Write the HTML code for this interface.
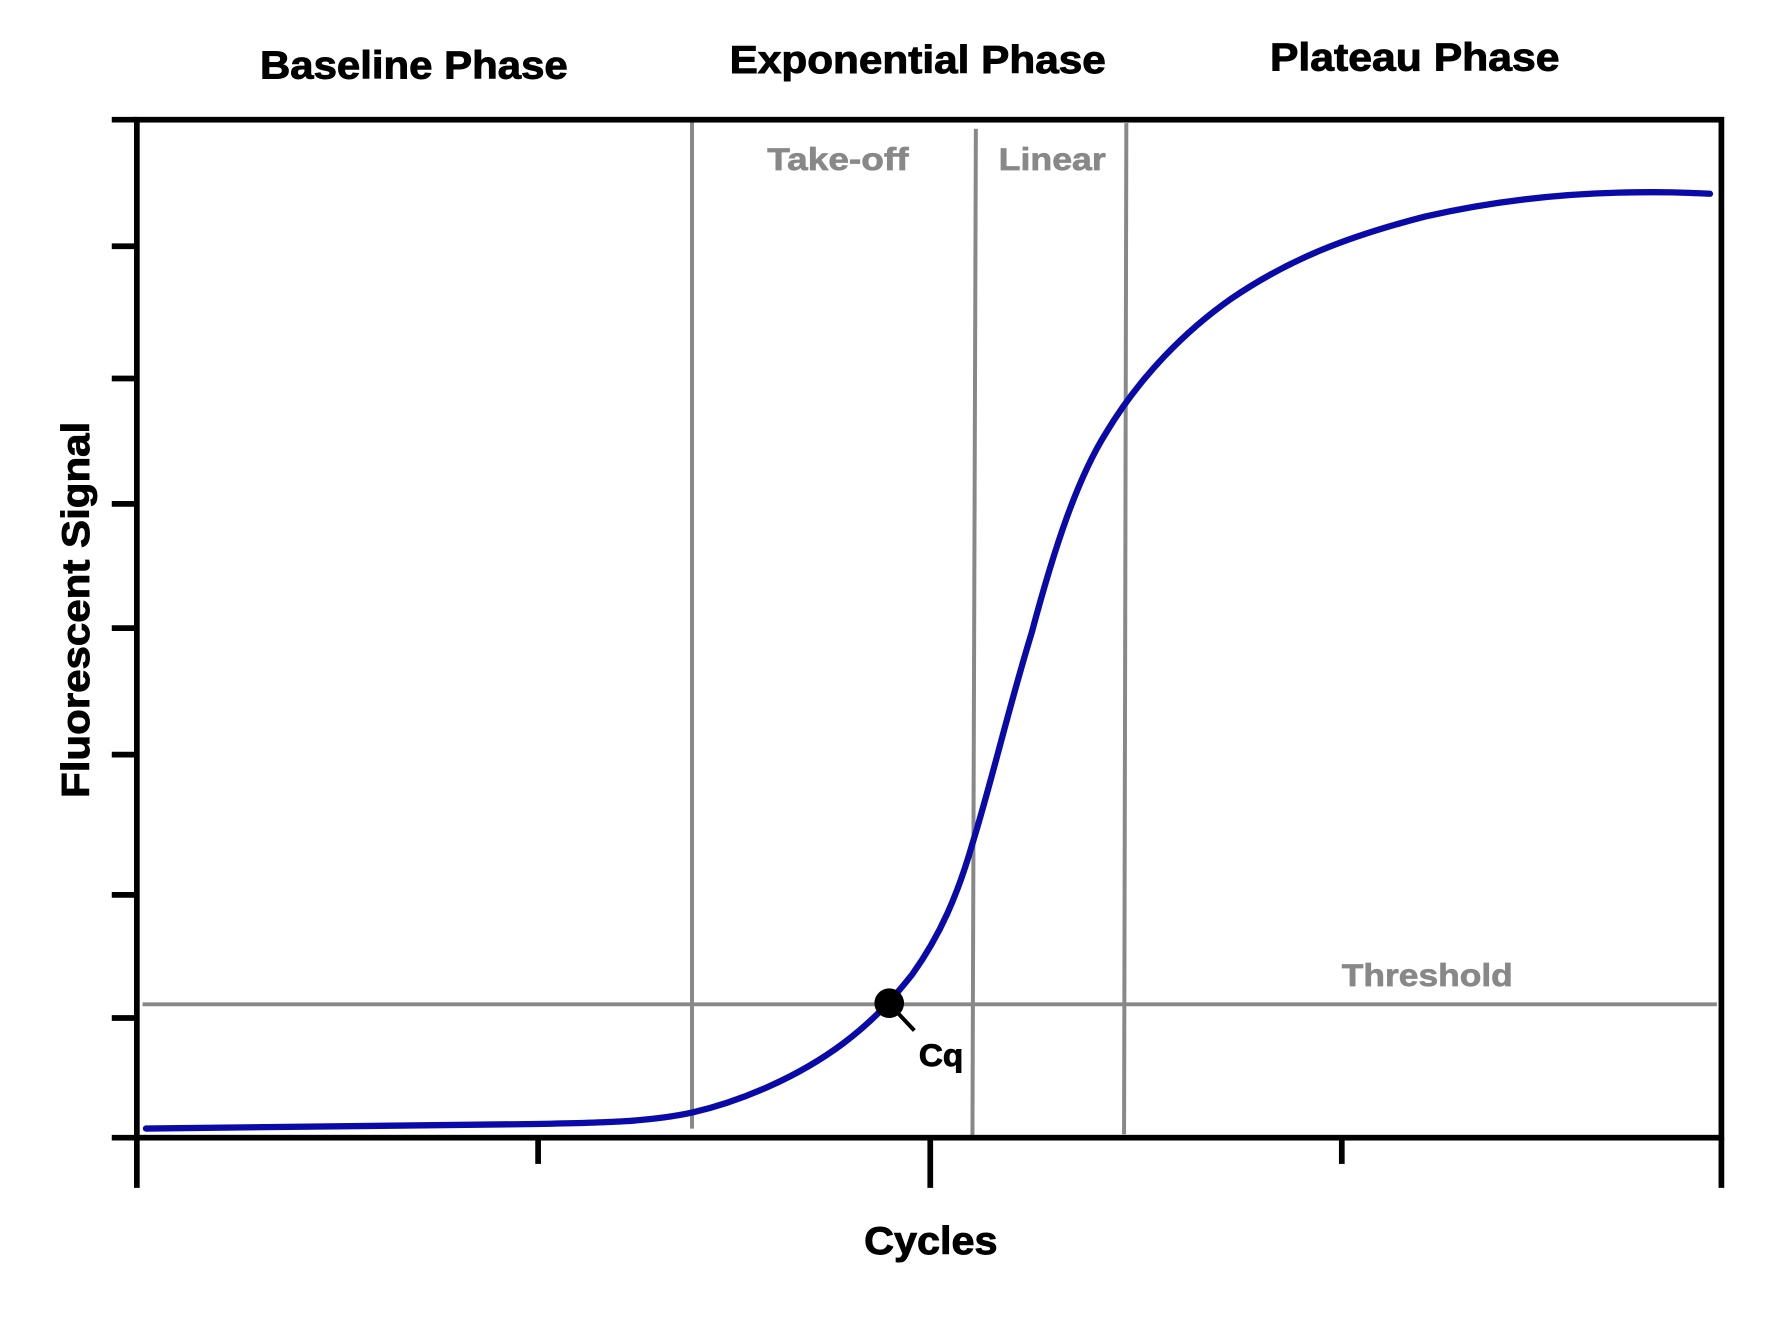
<!DOCTYPE html>
<html><head><meta charset="utf-8"><style>html,body{margin:0;padding:0;background:#fff}svg{display:block}</style></head>
<body>
<svg width="1787" height="1317" viewBox="0 0 1567.5 1155.3" xmlns="http://www.w3.org/2000/svg" font-family="Liberation Sans, Arial, sans-serif" font-weight="bold">
<rect width="1567.5" height="1155.3" fill="#fff"/>
<g stroke="#888" stroke-width="3.5" fill="none">
<line x1="607" y1="103" x2="607" y2="990"/>
<line x1="856" y1="113" x2="853" y2="998"/>
<line x1="988" y1="108" x2="986" y2="995"/>
<line x1="125" y1="881" x2="1506" y2="881"/>
</g>
<path d="M128,990 L470,986 C530,985 570,984 607,976 C650,966 700,945 740,915 C765,896 780,880 800,855 C825,820 840,785 853,740 C870,685 885,620 905,555 C925,480 945,420 970,380 C1000,330 1040,290 1080,262 C1130,228 1180,208 1250,190 C1320,174 1380,170 1420,169 C1460,168 1480,169 1500,170" fill="none" stroke="#0a0aa8" stroke-width="5.5" stroke-linecap="round"/>
<g stroke="#000" stroke-width="5" fill="none">
<rect x="120" y="105" width="1390" height="893"/>
<line x1="98" y1="105" x2="120" y2="105"/>
<line x1="98" y1="216" x2="120" y2="216"/>
<line x1="98" y1="332" x2="120" y2="332"/>
<line x1="98" y1="442" x2="120" y2="442"/>
<line x1="98" y1="551" x2="120" y2="551"/>
<line x1="98" y1="662" x2="120" y2="662"/>
<line x1="98" y1="785" x2="120" y2="785"/>
<line x1="98" y1="893" x2="120" y2="893"/>
<line x1="98" y1="998" x2="120" y2="998"/>
<line x1="120" y1="998" x2="120" y2="1042"/>
<line x1="472" y1="998" x2="472" y2="1021"/>
<line x1="816" y1="998" x2="816" y2="1042"/>
<line x1="1177" y1="998" x2="1177" y2="1021"/>
<line x1="1510" y1="998" x2="1510" y2="1042"/>
</g>
<circle cx="780" cy="880" r="13" fill="#000"/>
<line x1="786" y1="887" x2="802" y2="904" stroke="#000" stroke-width="3.5"/>
<g fill="#000" font-size="34" stroke="#000" stroke-width="0.8">
<text x="228" y="69" textLength="270" lengthAdjust="spacingAndGlyphs">Baseline Phase</text>
<text x="640" y="64" textLength="330" lengthAdjust="spacingAndGlyphs">Exponential Phase</text>
<text x="1114" y="62" textLength="254" lengthAdjust="spacingAndGlyphs">Plateau Phase</text>
<text x="758" y="1100" textLength="117" lengthAdjust="spacingAndGlyphs">Cycles</text>
<text x="806" y="935" font-size="28" textLength="39" lengthAdjust="spacingAndGlyphs">Cq</text>
<text transform="translate(78,700) rotate(-90)" textLength="330" lengthAdjust="spacingAndGlyphs">Fluorescent Signal</text>
</g>
<g fill="#888" font-size="28" stroke="#888" stroke-width="0.6">
<text x="673" y="149" textLength="124" lengthAdjust="spacingAndGlyphs">Take-off</text>
<text x="876" y="149" textLength="94" lengthAdjust="spacingAndGlyphs">Linear</text>
<text x="1177" y="865" textLength="150" lengthAdjust="spacingAndGlyphs">Threshold</text>
</g>
</svg>
</body></html>
